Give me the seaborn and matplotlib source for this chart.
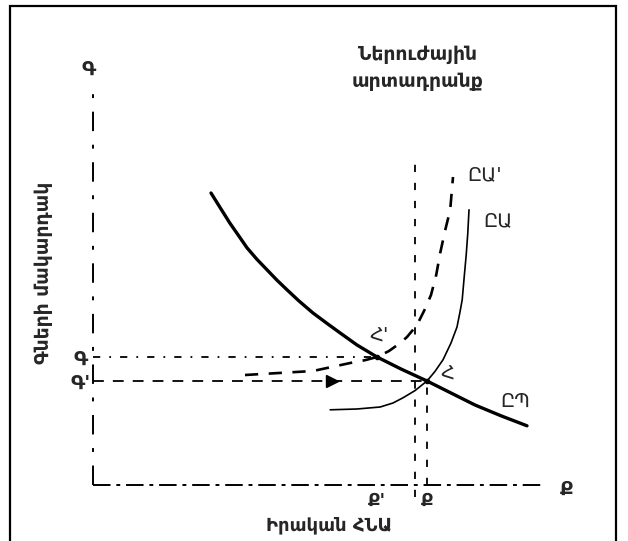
import matplotlib
matplotlib.use("Agg")
import matplotlib.pyplot as plt
import seaborn as sns
from matplotlib.patches import Rectangle

sns.set_theme(style="white")
plt.rcParams['font.family'] = ['DejaVu Sans']

# ---- data (economic units) ----
ad_x = [2.95, 3.2, 3.42, 3.65, 3.85, 4.1, 4.35, 4.6, 4.85, 5.15, 5.5, 5.85,
        6.18, 6.6, 7.1, 7.7, 8.35, 8.95, 9.55, 10.2, 10.85]
ad_y = [7.3, 6.9, 6.55, 6.22, 5.93, 5.64, 5.38, 5.12, 4.88, 4.6, 4.3, 4.04,
        3.8, 3.5, 3.2, 2.9, 2.6, 2.3, 2.0, 1.73, 1.48]

as_x = [5.93, 6.6, 7.18, 7.5, 7.75, 8.05, 8.35, 8.55, 8.75, 8.95, 9.1, 9.17,
        9.23, 9.28, 9.33, 9.37, 9.4]
as_y = [1.88, 1.9, 1.95, 2.05, 2.18, 2.36, 2.6, 2.84, 3.13, 3.55, 3.95, 4.3,
        4.63, 5.2, 5.75, 6.3, 6.88]

as2_x = [3.8, 5.5, 6.43, 6.8, 7.1, 7.4, 7.68, 7.85, 8.0, 8.15, 8.3, 8.45,
         8.58, 8.68, 8.8, 8.93, 9.0]
as2_y = [2.75, 2.85, 3.05, 3.12, 3.2, 3.35, 3.55, 3.7, 3.88, 4.1, 4.4, 4.75,
         5.25, 5.8, 6.35, 6.88, 7.7]

Q1, Q0, Q_pot = 7.1, 8.35, 8.05
P1, P0 = 3.2, 2.6
x_max, y_max = 11.2, 9.8

title = "Ներուժային\nարտադրանք"
xlabel = "Իրական ՀՆԱ"
ylabel = "Գների մակարդակ"

fig = plt.figure(figsize=(6.28, 5.41), dpi=100)
ax = fig.add_axes([0, 0, 1, 1])
ax.set_xlim(-2.325, 13.375)
ax.set_ylim(-1.4, 12.125)
ax.axis("off")

k = "black"
# axes (broken/dashed as in scan)
ax.plot([0, x_max], [0, 0], color=k, lw=1.4, dashes=(9, 3, 2, 3))
ax.plot([0, 0], [0, y_max], color=k, lw=1.4, dashes=(10, 7, 2, 7))

# potential output line
ax.plot([Q_pot, Q_pot], [-0.3, 8.1], color=k, lw=1.3, dashes=(4, 6))
# reference lines
ax.plot([0, Q1], [P1, P1], color=k, lw=1.3, dashes=(4, 5, 1, 5))
ax.plot([0, Q0], [P0, P0], color=k, lw=1.3, dashes=(6, 5))
ax.plot([Q0, Q0], [0, P0], color=k, lw=1.3, dashes=(4, 6))

sns.lineplot(x=ad_x, y=ad_y, ax=ax, color=k, lw=2.4, sort=False)
sns.lineplot(x=as_x, y=as_y, ax=ax, color=k, lw=1.2, sort=False)
l = sns.lineplot(x=as2_x, y=as2_y, ax=ax, color=k, lw=1.9, sort=False)
l.lines[-1].set_dashes((5, 4))

# arrow marker
ax.plot([5.98], [P0], marker=">", color=k, ms=9, ls="none")
ax.plot([Q1, Q0], [P1, P0], ls="none", marker="o", ms=3, color=k)

fs = 14
tw = "bold"
ax.text(8.12, 10.42, title, ha="center", va="center", fontsize=13.5,
        linespacing=1.55, fontweight=tw)
ax.text(-0.1, 10.4, "Գ", ha="center", va="center", fontsize=fs, fontweight=tw)
ax.text(-0.3, P1 - 0.05, "Գ", ha="center", va="center", fontsize=fs, fontweight=tw)
ax.text(-0.3, P0 - 0.05, "Գ'", ha="center", va="center", fontsize=fs, fontweight=tw)
ax.text(Q1, -0.4, "Ք'", ha="center", va="center", fontsize=13, fontweight=tw)
ax.text(Q0, -0.4, "Ք", ha="center", va="center", fontsize=13, fontweight=tw)
ax.text(11.85, -0.1, "Ք", ha="center", va="center", fontsize=fs, fontweight=tw)
ax.text(5.9, -1.0, xlabel, ha="center", va="center", fontsize=13, fontweight=tw)
ax.text(-1.25, 5.3, ylabel, ha="center", va="center", fontsize=13.5,
        rotation=90, fontweight=tw)
ax.text(9.8, 7.75, "ԸԱ'", ha="center", va="center", fontsize=fs)
ax.text(10.12, 6.6, "ԸԱ", ha="center", va="center", fontsize=fs)
ax.text(10.55, 2.1, "ԸՊ", ha="center", va="center", fontsize=fs)
ax.text(7.15, 3.75, "Հ'", ha="center", va="center", fontsize=fs)
ax.text(8.85, 2.78, "Հ", ha="center", va="center", fontsize=fs)

# frame
fig.add_artist(Rectangle((10 / 628, -0.02), 606 / 628, 1.02 - 6 / 541,
                         transform=fig.transFigure, fill=False, lw=1.6, ec=k))

fig.savefig("out.png", dpi=100)
